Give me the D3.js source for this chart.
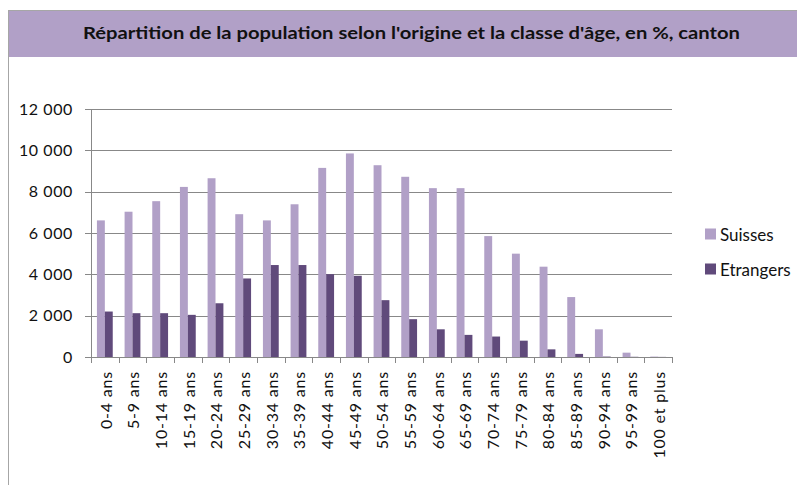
<!DOCTYPE html>
<html>
<head>
<meta charset="utf-8">
<script src="https://cdn.jsdelivr.net/npm/d3@7"></script>
<style>
  body { margin: 0; background: #fff; }
  svg { display: block; }
</style>
</head>
<body>
<div id="chart"></div>
<script>
const categories = ['0-4 ans', '5-9 ans', '10-14 ans', '15-19 ans', '20-24 ans', '25-29 ans',
  '30-34 ans', '35-39 ans', '40-44 ans', '45-49 ans', '50-54 ans', '55-59 ans', '60-64 ans',
  '65-69 ans', '70-74 ans', '75-79 ans', '80-84 ans', '85-89 ans', '90-94 ans', '95-99 ans',
  '100 et plus'];
const suisses = [6610, 7030, 7540, 8230, 8650, 6910, 6610, 7390, 9150, 9850, 9280,
  8720, 8170, 8170, 5850, 5000, 4370, 2900, 1340, 210, 20];
const etrangers = [2200, 2120, 2120, 2040, 2600, 3800, 4450, 4450, 4010, 3930, 2750,
  1830, 1340, 1070, 990, 790, 370, 150, 20, 10, 5];
const seriesNames = ['Suisses', 'Etrangers'];
const colors = ['#B1A0C7', '#604A7B'];
const yTicks = [0, 2000, 4000, 6000, 8000, 10000, 12000];
const title = "Répartition de la population selon l'origine et la classe d'âge, en %, canton";

const W = 797, H = 485;
const FONT = 'Lato, "Open Sans", sans-serif';
const margin = { left: 91, right: W - 672, top: 109, bottom: H - 357 };

const svg = d3.select('#chart')
  .append('svg')
  .attr('width', W)
  .attr('height', H);

// outer frame + title band
svg.append('rect')
  .attr('x', 8.5).attr('y', 10.5)
  .attr('width', W).attr('height', H)
  .attr('fill', '#fff')
  .attr('stroke', '#a6a6a6');
svg.append('rect')
  .attr('x', 9).attr('y', 11)
  .attr('width', W).attr('height', 46)
  .attr('fill', '#B1A0C7');
svg.append('text')
  .attr('x', 83).attr('y', 39)
  .attr('textLength', 657)
  .attr('lengthAdjust', 'spacingAndGlyphs')
  .attr('font-family', FONT)
  .attr('font-weight', 'bold')
  .attr('font-size', 17.5)
  .attr('fill', '#111')
  .text(title);

const x = d3.scaleBand()
  .domain(categories)
  .range([margin.left, W - margin.right]);

const y = d3.scaleLinear()
  .domain([0, 12000])
  .range([H - margin.bottom, margin.top]);

// gridlines
svg.append('g')
  .attr('stroke', '#888')
  .selectAll('line')
  .data(yTicks)
  .join('line')
  .attr('x1', margin.left - 6)
  .attr('x2', W - margin.right)
  .attr('y1', d => Math.round(y(d)) + 0.5)
  .attr('y2', d => Math.round(y(d)) + 0.5);

// y labels
svg.append('g')
  .attr('font-family', FONT)
  .attr('font-size', 16)
  .attr('letter-spacing', 0.6)
  .attr('fill', '#111')
  .selectAll('text')
  .data(yTicks)
  .join('text')
  .attr('x', margin.left - 18)
  .attr('y', d => y(d))
  .attr('dy', '0.36em')
  .attr('text-anchor', 'end')
  .text(d => d3.format(',')(d).replace(/,/g, ' '));

// bars
const bw = x.bandwidth() / 3.5;
const series = [suisses, etrangers];
series.forEach((vals, si) => {
  svg.append('g')
    .attr('fill', colors[si])
    .selectAll('rect')
    .data(vals)
    .join('rect')
    .attr('x', (d, i) => x(categories[i]) + 0.75 * bw + si * bw)
    .attr('width', bw)
    .attr('y', d => y(d))
    .attr('height', d => y(0) - y(d));
});

// axes lines
svg.append('line')
  .attr('x1', margin.left + 0.5).attr('x2', margin.left + 0.5)
  .attr('y1', y(12000)).attr('y2', y(0))
  .attr('stroke', '#888');
svg.append('line')
  .attr('x1', margin.left).attr('x2', W - margin.right)
  .attr('y1', Math.round(y(0)) + 0.5).attr('y2', Math.round(y(0)) + 0.5)
  .attr('stroke', '#888');

// x tick marks between categories
const bounds = categories.map(c => x(c)).concat([W - margin.right]);
svg.append('g')
  .attr('stroke', '#888')
  .selectAll('line')
  .data(bounds)
  .join('line')
  .attr('x1', d => Math.round(d) + 0.5)
  .attr('x2', d => Math.round(d) + 0.5)
  .attr('y1', y(0))
  .attr('y2', y(0) + 6);

// x labels rotated
svg.append('g')
  .attr('font-family', FONT)
  .attr('font-size', 16)
  .attr('letter-spacing', 0.8)
  .attr('fill', '#111')
  .selectAll('text')
  .data(categories)
  .join('text')
  .attr('transform', d => `translate(${x(d) + x.bandwidth() / 2 + 1},${y(0) + 14}) rotate(-90)`)
  .attr('dy', '0.36em')
  .attr('text-anchor', 'end')
  .text(d => d);

// legend
const legend = svg.append('g')
  .attr('font-family', FONT)
  .attr('font-size', 17)
  .attr('fill', '#111');
seriesNames.forEach((name, i) => {
  const base = 240.5 + i * 35;
  legend.append('rect')
    .attr('x', 705).attr('y', base - 12)
    .attr('width', 11).attr('height', 11)
    .attr('fill', colors[i]);
  legend.append('text')
    .attr('x', 720).attr('y', base)
    .text(name);
});
</script>
</body>
</html>
